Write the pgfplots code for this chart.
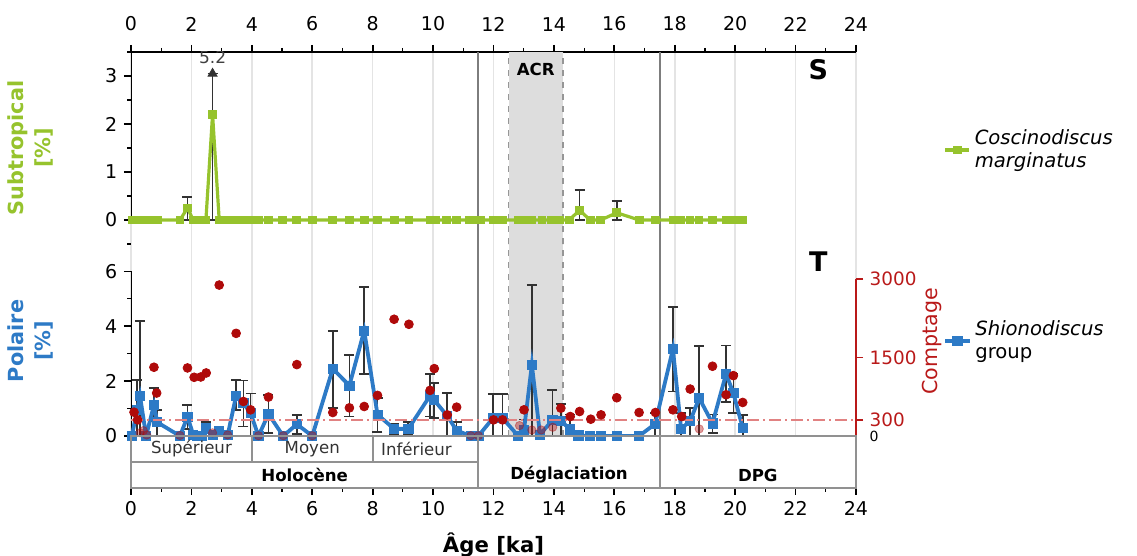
\documentclass[border=0pt]{standalone}
\usepackage{pgfplots}
\usepackage{pgfplotstable}
\pgfplotsset{compat=1.18}
\usepackage{fontspec}
\setmainfont{DejaVu Sans}
\definecolor{cgreen}{RGB}{150,195,45}
\definecolor{cblue}{RGB}{45,122,198}
\definecolor{cdot}{RGB}{175,10,10}
\definecolor{cred}{RGB}{185,25,25}
\definecolor{clred}{RGB}{225,130,130}
\definecolor{cerr}{RGB}{50,50,50}
\definecolor{cgrid}{RGB}{228,228,228}
\definecolor{cacr}{RGB}{221,221,221}
\definecolor{cacredge}{RGB}{150,150,150}
\definecolor{cvline}{RGB}{125,125,125}
\definecolor{cbox}{RGB}{145,145,145}

\pgfplotstableread{
a v
0.03 0
0.1 0
0.2 0
0.3 0
0.42 0
0.5 0
0.6 0
0.76 0
0.87 0
1.62 0
1.87 0.25
2.06 0
2.2 0
2.35 0
2.48 0
2.7 2.2
2.92 0
3.05 0
3.2 0
3.35 0
3.48 0
3.6 0
3.72 0
3.84 0
3.96 0
4.1 0
4.22 0
4.55 0
5.02 0
5.48 0
6.0 0
6.67 0
7.22 0
7.72 0
8.16 0
8.71 0
9.2 0
9.9 0
10.07 0
10.45 0
10.78 0
11.2 0
11.4 0
11.56 0
12.0 0
12.3 0
12.82 0
13.01 0
13.15 0
13.27 0
13.6 0
13.9 0
14.05 0
14.2 0
14.5 0
14.85 0.2
15.2 0
15.55 0
16.08 0.15
16.82 0
17.35 0
17.95 0
18.2 0
18.5 0
18.8 0
19.25 0
19.7 0
19.8 0
19.94 0
20.25 0
}\tgreen

\pgfplotstableread{
a v ep em
1.87 0.25 0.23 0.25
2.7 2.2 0.85 2.2
14.85 0.2 0.42 0.2
16.08 0.15 0.25 0.15
}\tgreenerr

\pgfplotstableread{
a v
0.03 0
0.2 0.95
0.3 1.45
0.5 0
0.76 1.13
0.87 0.5
1.62 0
1.87 0.7
2.06 0.05
2.2 0
2.35 0
2.48 0.28
2.7 0.05
2.92 0.2
3.2 0.03
3.48 1.47
3.72 1.2
3.96 0.83
4.22 0
4.55 0.8
5.04 0
5.49 0.43
6.0 0
6.68 2.45
7.23 1.84
7.72 3.84
8.16 0.78
8.71 0.26
9.18 0.26
9.9 1.47
10.03 1.32
10.47 0.73
10.78 0.2
11.25 0
11.5 0
11.98 0.65
12.3 0.65
12.82 0
13.01 0.22
13.27 2.6
13.54 0.05
13.95 0.58
14.23 0.55
14.54 0.24
14.81 0.02
15.2 0
15.56 0
16.08 0
16.82 0
17.35 0.44
17.94 3.17
18.21 0.26
18.51 0.55
18.81 1.38
19.25 0.46
19.7 2.27
19.94 1.56
20.25 0.3
}\tblue

\pgfplotstableread{
a v ep em
0.2 0.95 1.1 0.95
0.3 1.45 2.75 1.45
0.76 1.13 0.61 0.58
0.87 0.5 0.45 0.5
1.87 0.7 0.43 0.45
2.48 0.28 0.24 0.28
2.92 0.2 0.15 0.2
3.48 1.47 0.58 0.52
3.72 1.2 0.82 0.85
3.96 0.83 0.72 0.83
4.55 0.8 0.7 0.68
5.49 0.43 0.34 0.36
6.68 2.45 1.39 1.44
7.23 1.84 1.12 1.13
7.72 3.84 1.59 1.57
8.16 0.78 0.6 0.63
8.71 0.26 0.2 0.21
9.18 0.26 0.24 0.19
9.9 1.47 0.8 0.76
10.03 1.32 0.62 0.67
10.47 0.73 0.85 0.73
10.78 0.2 0.3 0.2
11.98 0.65 0.89 0.65
12.3 0.65 0.89 0.65
13.01 0.22 0.38 0.22
13.27 2.6 2.9 2.6
13.95 0.58 1.1 0.58
14.23 0.55 0.62 0.55
14.54 0.24 0.54 0.24
17.35 0.44 0.41 0.44
17.94 3.17 1.53 1.55
18.21 0.26 0.59 0.26
18.51 0.55 0.48 0.55
18.81 1.38 1.89 1.38
19.25 0.46 0.32 0.36
19.7 2.27 1.03 1.04
19.94 1.56 0.71 0.71
20.25 0.3 0.46 0.3
}\tblueerr

\pgfplotstableread{
a c
0.1 455
0.22 308
0.76 1314
0.85 821
1.87 1301
2.09 1122
2.31 1128
2.49 1205
2.92 2885
3.48 1962
3.72 660
3.96 500
4.55 744
5.49 1365
6.68 449
7.23 538
7.72 564
8.16 776
8.71 2231
9.2 2135
9.9 872
10.04 1288
10.47 404
10.78 551
12.0 308
12.3 308
13.01 500
14.23 532
14.54 372
14.85 468
15.22 321
15.56 404
16.08 731
16.82 449
17.36 449
17.94 500
18.23 372
18.51 897
19.25 1333
19.7 788
19.94 1154
20.25 641
}\tdots

\pgfplotstableread{
a c
0.3 63
0.41 102
0.52 19
1.62 10
2.7 60
3.2 20
4.22 5
5.04 5
6.0 5
11.25 5
11.5 5
12.86 199
13.27 115
13.58 115
13.96 167
18.81 135
}\tfaint

\pgfplotsset{
  panel/.style={
    scale only axis, width=362.5pt, xmin=0, xmax=24, anchor=south west,
    tick label style={font=\fontsize{9.5}{11}\selectfont},
    /pgf/number format/assume math mode=true,
    tick align=outside,
    major tick length=3.5pt, minor tick length=2pt,
    major tick style={black, line width=0.9pt},
    minor tick style={black, line width=0.6pt},
  },
  mylegend/.style={
    legend style={draw=none, fill=none, at={(axis description cs:#1)}, anchor=west,
      font=\fontsize{9.8}{11.5}\selectfont, cells={align=left},
      /tikz/every even column/.append style={column sep=3pt}},
    legend cell align=left,
    legend image code/.code={\draw[##1, mark repeat=2, mark phase=2] plot coordinates {(0pt,0pt) (6pt,0pt) (12pt,0pt)};},
  },
  errstyle/.style={forget plot, draw=none, mark=none,
    error bars/.cd, y dir=both, y explicit,
    error bar style={draw=cerr, line width=0.85pt, solid},
    error mark=-,
    error mark options={draw=cerr, line width=0.85pt, mark size=2.5pt, rotate=90}},
}

\begin{document}
\fontsize{9.5}{11.4}\selectfont
\begin{tikzpicture}
\useasboundingbox (0pt,0pt) rectangle (568.5pt,278pt);

% ---------- top panel (Subtropical) ----------
\begin{axis}[panel, at={(65.5pt,156pt)}, height=96pt, ymin=-0.5, ymax=3.5,
  axis x line*=top, axis y line*=left,
  x axis line style={black, line width=0.9pt, -},
  y axis line style={draw=none, -},
  xtick={0,2,...,24}, minor xtick={1,3,...,23},
  xticklabel style={yshift=3.5pt},
  ytick={0,1,2,3}, minor ytick={-0.5,0.5,1.5,2.5,3.5},
  xmajorgrids, major grid style={cgrid, line width=0.8pt},
  mylegend={1.112,0.49},
]
\fill[cacr] (axis cs:12.5,-0.5) rectangle (axis cs:14.3,3.5);
\draw[cacredge, dashed, line width=0.8pt] (axis cs:12.5,-0.5) -- (axis cs:12.5,3.5) (axis cs:14.3,-0.5) -- (axis cs:14.3,3.5);
\draw[cvline, line width=1pt] (axis cs:11.5,-0.5) -- (axis cs:11.5,3.5) (axis cs:17.5,-0.5) -- (axis cs:17.5,3.5);
\draw[black, line width=1.2pt] (axis cs:0,0) -- (axis cs:0,3.5);
\addplot[errstyle] table[x=a, y=v, y error plus=ep, y error minus=em] {\tgreenerr};
\addplot[cgreen, line width=1.6pt, mark=square*, mark size=1.95pt, mark options={line width=0.4pt}] table[x=a, y=v] {\tgreen};
\addlegendentry{\textit{Coscinodiscus}\\\textit{marginatus}}
\addplot[forget plot, only marks, mark=triangle*, mark size=2.6pt, cerr] coordinates {(2.7,3.05)};
\node[text=black!75, font=\fontsize{8.5}{10}\selectfont, above] at (axis cs:2.7,3.12) {5.2};
\node[font=\bfseries\fontsize{8.3}{10}\selectfont] at (axis cs:13.4,3.13) {ACR};
\node[font=\bfseries\fontsize{13.5}{15}\selectfont] at (axis cs:22.75,3.13) {S};
\end{axis}

% ---------- bottom panel (Polaire) ----------
\begin{axis}[panel, at={(65.5pt,60pt)}, height=96pt, ymin=0, ymax=7,
  axis x line*=bottom, axis y line*=left,
  x axis line style={draw=none, -},
  y axis line style={draw=none, -},
  xtick={0,2,...,24}, xticklabels={}, xtick style={draw=none},
  ytick={0,2,4,6}, minor ytick={1,3,5,7},
  xmajorgrids, major grid style={cgrid, line width=0.8pt},
  mylegend={1.112,0.495},
]
\fill[cacr] (axis cs:12.5,0) rectangle (axis cs:14.3,7);
\draw[cacredge, dashed, line width=0.8pt] (axis cs:12.5,0) -- (axis cs:12.5,7) (axis cs:14.3,0) -- (axis cs:14.3,7);
\draw[cvline, line width=1pt] (axis cs:11.5,0) -- (axis cs:11.5,7) (axis cs:17.5,0) -- (axis cs:17.5,7);
\draw[black, line width=1.2pt] (axis cs:0,0) -- (axis cs:0,6);
\addplot[errstyle] table[x=a, y=v, y error plus=ep, y error minus=em] {\tblueerr};
\addplot[cblue, line width=1.9pt, mark=square*, mark size=2.3pt, mark options={line width=0.4pt}] table[x=a, y=v] {\tblue};
\addlegendentry{\textit{Shionodiscus}\\group}
\node[font=\bfseries\fontsize{13.5}{15}\selectfont] at (axis cs:22.75,6.34) {T};
\end{axis}

% ---------- count axis ----------
\begin{axis}[panel, at={(65.5pt,60pt)}, height=96pt, ymin=0, ymax=3670,
  axis x line=none, axis y line*=right,
  y axis line style={draw=none, -},
  ytick={300,1500,3000}, yticklabels={300,1500,3000},
  yticklabel style={text=cred, font=\fontsize{9.2}{11}\selectfont},
  major tick style={cred, line width=0.9pt},
  clip=false,
]
\draw[cred, line width=1.2pt] (axis cs:24,0) -- (axis cs:24,3000);
\addplot[clred, line width=0.8pt, dash pattern=on 6pt off 2pt on 1pt off 2pt] coordinates {(0,300) (24,300)};
\addplot[only marks, mark=*, mark size=2.1pt, cdot, opacity=0.4] table[x=a, y=c] {\tfaint};
\addplot[only marks, mark=*, mark size=2.2pt, cdot] table[x=a, y=c] {\tdots};
\node[anchor=west, font=\fontsize{7}{8}\selectfont] at (axis cs:24,-10) {\hspace{3.5pt}0};
\end{axis}

% ---------- stratigraphy band ----------
\begin{axis}[panel, at={(65.5pt,34pt)}, height=26pt, ymin=0, ymax=2,
  axis x line*=bottom, axis y line=none,
  x axis line style={draw=none, -},
  xtick={0,2,...,24}, minor xtick={1,3,...,23},
  clip=false,
]
\draw[cbox, line width=1pt] (axis cs:0,0) rectangle (axis cs:24,2);
\draw[cbox, line width=1pt] (axis cs:0,1) -- (axis cs:11.5,1);
\draw[cbox, line width=1pt] (axis cs:4,1) -- (axis cs:4,2) (axis cs:8,1) -- (axis cs:8,2);
\draw[cbox, line width=1pt] (axis cs:11.5,0) -- (axis cs:11.5,2) (axis cs:17.5,0) -- (axis cs:17.5,2);
\node[font=\fontsize{8.3}{10}\selectfont, text=black!80] at (axis cs:2,1.5) {Supérieur};
\node[font=\fontsize{8.3}{10}\selectfont, text=black!80] at (axis cs:6,1.5) {Moyen};
\node[font=\fontsize{8.3}{10}\selectfont, text=black!80] at (axis cs:9.45,1.5) {Inférieur};
\node[font=\bfseries\fontsize{8.3}{10}\selectfont] at (axis cs:5.75,0.5) {Holocène};
\node[font=\bfseries\fontsize{8.3}{10}\selectfont] at (axis cs:14.5,0.5) {Déglaciation};
\node[font=\bfseries\fontsize{8.3}{10}\selectfont] at (axis cs:20.75,0.5) {DPG};
\end{axis}

% ---------- outer labels ----------
\node[rotate=90, align=center, text=cgreen, font=\bfseries\fontsize{10.4}{13.5}\selectfont] at (15pt,204pt) {Subtropical\\{[\%]}};
\node[rotate=90, align=center, text=cblue, font=\bfseries\fontsize{10.4}{13.5}\selectfont] at (15pt,107.5pt) {Polaire\\{[\%]}};
\node[rotate=90, text=cred, font=\fontsize{10.3}{12}\selectfont] at (465.75pt,107.25pt) {Comptage};
\node[font=\bfseries\fontsize{10.6}{12}\selectfont] at (246.75pt,5.5pt) {Âge [ka]};
\end{tikzpicture}
\end{document}
